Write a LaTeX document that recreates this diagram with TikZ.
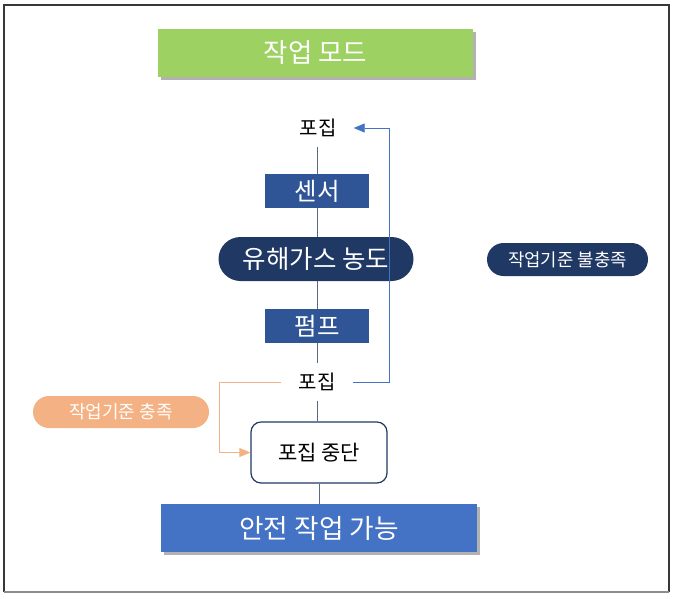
\documentclass[tikz,border=0pt]{standalone}
\usepackage{fontspec}
\setmainfont{Noto Sans CJK KR}
\usetikzlibrary{arrows.meta,shadows,calc}
\definecolor{cgreen}{RGB}{157,210,98}
\definecolor{cmid}{RGB}{47,85,151}
\definecolor{cnavy}{RGB}{32,56,100}
\definecolor{cblue}{RGB}{68,114,196}
\definecolor{corange}{RGB}{244,177,131}
\definecolor{cline}{RGB}{90,105,135}
\definecolor{cframe}{RGB}{55,55,55}
\definecolor{cframeb}{RGB}{140,140,140}
\tikzset{
  every node/.style={inner sep=0pt, align=center},
  shad/.style={drop shadow={shadow xshift=3pt, shadow yshift=-3pt, fill=black, opacity=0.3}},
  bandbox/.style={shad, text=white, font=\fontsize{26.5}{29}\selectfont},
  smallbox/.style={fill=cmid, text=white, minimum width=104pt, minimum height=34pt, font=\fontsize{24.5}{27}\selectfont},
  pillnavy/.style={fill=cnavy, text=white},
  ptext/.style={minimum width=71pt, minimum height=38pt, font=\fontsize{20}{23}\selectfont},
  conn/.style={draw=cline, line width=0.8pt},
  tip/.style={-{Triangle[length=11pt,width=9pt]}}
}
\begin{document}
\begin{tikzpicture}[x=1pt,y=-1pt]
\useasboundingbox (0,0) rectangle (674,598);
% frame
\draw[cframe, line width=1.3pt] (4,592) -- (4,5) -- (669,5) -- (669,592);
\draw[cframeb, line width=2pt] (4,592) -- (669,592);

\node[bandbox, fill=cgreen, minimum width=315pt, minimum height=48pt] (mode) at (315.5,53) {작업 모드};
\node[ptext] (p1) at (318,128) {포집};
\node[smallbox] (sensor) at (317,191) {센서};
\node[pillnavy, minimum width=195pt, minimum height=44pt, rounded corners=22pt, font=\fontsize{25.5}{28}\selectfont] (gas) at (316,259) {유해가스 농도};
\node[smallbox] (pump) at (317,326) {펌프};
\node[ptext] (p2) at (317,382) {포집};
\node[draw=cnavy, line width=1.2pt, fill=white, rounded corners=10pt, minimum width=136pt, minimum height=61pt, font=\fontsize{21}{24}\selectfont] (stop) at (319,452.5) {포집 중단};
\node[bandbox, fill=cblue, minimum width=316pt, minimum height=48pt, font=\fontsize{26.7}{29}\selectfont] (safe) at (319,528) {안전 작업 가능};
\node[fill=corange, text=white, minimum width=176pt, minimum height=32pt, rounded corners=16pt, font=\fontsize{18}{21}\selectfont] (ok) at (121,412) {작업기준 충족};
\node[pillnavy, minimum width=161pt, minimum height=33pt, rounded corners=16.5pt, font=\fontsize{17.8}{21}\selectfont] (nok) at (567.5,259.5) {작업기준 불충족};

% connectors
\draw[conn] (p1.south -| sensor.north) -- (sensor.north);
\draw[conn] (sensor.south) -- (sensor.south |- gas.north);
\draw[conn] (gas.south -| pump.north) -- (pump.north);
\draw[conn] (pump.south) -- (p2.north);
\draw[conn] (p2.south) -- (p2.south |- stop.north);
\draw[conn] (stop.south) -- (safe.north);
\draw[draw=cblue, line width=0.8pt, tip, cblue] (p2.east) -- ++(37,0) |- (p1.east);
\draw[draw=corange, line width=0.8pt, tip, corange] (p2.west) -- ++(-62,0) |- (stop.west);
\end{tikzpicture}
\end{document}
